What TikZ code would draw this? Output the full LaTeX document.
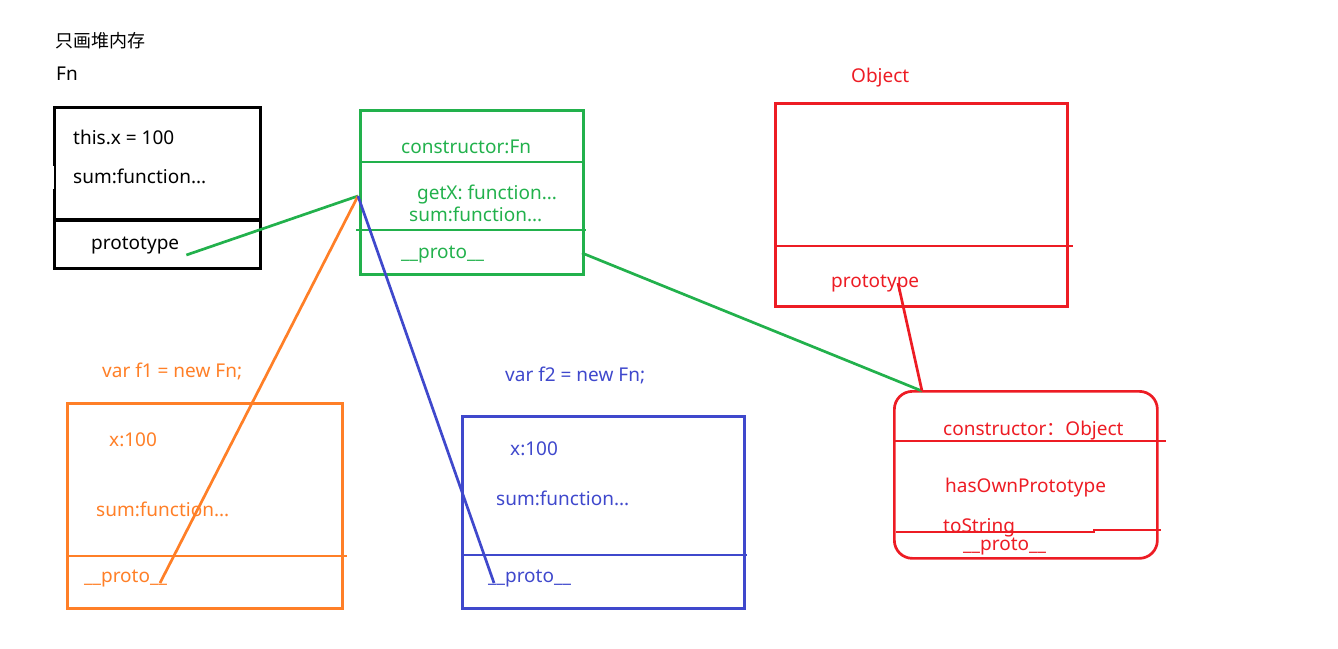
\documentclass[tikz,border=0pt]{standalone}
\usepackage{fontspec}
\setmainfont{Noto Sans}
\newfontfamily\cjk{Noto Sans CJK SC}
\definecolor{pgreen}{RGB}{34,177,76}
\definecolor{porange}{RGB}{255,127,39}
\definecolor{pblue}{RGB}{63,72,204}
\definecolor{pred}{RGB}{237,28,36}
\begin{document}
\begin{tikzpicture}[x=1pt,y=-1pt,
  every node/.style={inner sep=0pt, anchor=base west, font=\fontsize{19}{23}\selectfont},
  box/.style={draw, anchor=north west, minimum width=#1},
  conn/.style={line width=2.7pt},
  divl/.style={line width=2.7pt}]
\useasboundingbox (0,0) rectangle (1338,648);

% ---------- Fn (black) ----------
\node[font=\fontsize{18}{22}\selectfont\cjk] (title) at (55,47) {只画堆内存};
\node (fnlabel) at (56,80) {Fn};
\node[box=206pt, minimum height=161pt, line width=3.3pt] (fnbox) at (53,106) {};
\draw[line width=3.3pt] (53,220) -- (259,220);
\draw[white, line width=3.5pt] (52.5,166) -- (52.5,189);
\node (fnx) at (73,144) {this.x = 100};
\node (fnsum) at (73,183) {sum:function...};
\node (fnproto) at (91,249) {prototype};

% ---------- Fn.prototype (green) ----------
\node[box=223pt, minimum height=164pt, draw=pgreen, line width=2.7pt] (pbox) at (359,109) {};
\draw[divl, pgreen] (359,162) -- (582,162);
\draw[divl, pgreen] (356,230) -- (586,230);
\node[text=pgreen] (pcons) at (401,153) {constructor:Fn};
\node[text=pgreen] (pgetx) at (417,199) {getX: function...};
\node[text=pgreen] (psum) at (409,221) {sum:function...};
\node[text=pgreen] (pproto) at (401,258) {\_\_proto\_\_};
\coordinate (pin) at (358,196);
\coordinate (pout) at (582,253);

% ---------- Object (red) ----------
\node[text=pred] (objlabel) at (851,82) {Object};
\node[box=292pt, minimum height=203pt, draw=pred, line width=2.7pt] (objbox) at (774,102) {};
\draw[divl, pred] (774,246) -- (1073,246);
\node[text=pred] (objproto) at (831,287) {prototype};
\coordinate (objpend) at (898,283);

% ---------- Object.prototype (red, rounded) ----------
\node[box=263pt, minimum height=167pt, draw=pred, line width=2.7pt, rounded corners=18pt] (opbox) at (893,390) {};
\draw[divl, pred] (893,441) -- (1166,441);
\draw[divl, pred] (896,532) -- (1094,532) -- (1094,530) -- (1161,530);
\node[text=pred] (opcons) at (943,435) {constructor{\cjk ：}Object};
\node[text=pred] (ophas) at (945,492) {hasOwnPrototype};
\node[text=pred] (opstr) at (943,532) {toString};
\node[text=pred] (opproto) at (963,550) {\_\_proto\_\_};
\coordinate (optop) at (922,391);

% ---------- f1 (orange) ----------
\node[text=porange] (f1label) at (102,377) {var f1 = new Fn;};
\node[box=275pt, minimum height=205pt, draw=porange, line width=2.7pt] (f1box) at (66,402) {};
\draw[divl, porange] (66,556) -- (347,556);
\node[text=porange] (f1x) at (109,446) {x:100};
\node[text=porange] (f1sum) at (96,516) {sum:function...};
\node[text=porange] (f1proto) at (84,582) {\_\_proto\_\_};
\coordinate (f1end) at (160,583);

% ---------- f2 (blue) ----------
\node[text=pblue] (f2label) at (505,381) {var f2 = new Fn;};
\node[box=282pt, minimum height=192pt, draw=pblue, line width=2.7pt] (f2box) at (461,415) {};
\draw[divl, pblue] (461,555) -- (747,555);
\node[text=pblue] (f2x) at (510,455) {x:100};
\node[text=pblue] (f2sum) at (496,505) {sum:function...};
\node[text=pblue] (f2proto) at (488,582) {\_\_proto\_\_};
\coordinate (f2end) at (494,583);

% ---------- connectors ----------
\draw[conn, pgreen] ([xshift=7pt,yshift=-6pt]fnproto.base east) -- (pin);
\draw[conn, porange] (f1end) -- (pin);
\draw[conn, pblue] (pin) -- (f2end);
\draw[conn, pgreen] (pout) -- (optop);
\draw[conn, pred] (objpend) -- (optop);
\end{tikzpicture}
\end{document}
